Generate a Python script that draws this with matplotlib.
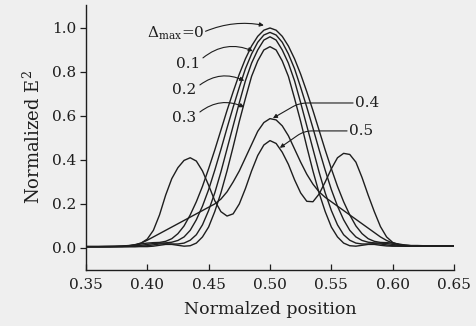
import numpy as np
import matplotlib
matplotlib.use("Agg")
import matplotlib.pyplot as plt

plt.rcParams['font.family'] = ['DejaVu Serif']
plt.rcParams['mathtext.fontset'] = 'dejavuserif'

# Normalized position grid (0.35 .. 0.65, step 0.005)
position = [0.350, 0.355, 0.360, 0.365, 0.370, 0.375, 0.380, 0.385, 0.390, 0.395,
            0.400, 0.405, 0.410, 0.415, 0.420, 0.425, 0.430, 0.435, 0.440, 0.445,
            0.450, 0.455, 0.460, 0.465, 0.470, 0.475, 0.480, 0.485, 0.490, 0.495,
            0.500, 0.505, 0.510, 0.515, 0.520, 0.525, 0.530, 0.535, 0.540, 0.545,
            0.550, 0.555, 0.560, 0.565, 0.570, 0.575, 0.580, 0.585, 0.590, 0.595,
            0.600, 0.605, 0.610, 0.615, 0.620, 0.625, 0.630, 0.635, 0.640, 0.645,
            0.650]

# Normalized E^2 for each Delta_max
e2_d00 = [0.005, 0.005, 0.005, 0.005, 0.005, 0.006, 0.007, 0.009, 0.013, 0.018,
          0.022, 0.024, 0.025, 0.030, 0.042, 0.065, 0.100, 0.150, 0.210, 0.280,
          0.360, 0.445, 0.535, 0.625, 0.710, 0.790, 0.860, 0.918, 0.962, 0.990,
          1.000, 0.990, 0.962, 0.918, 0.860, 0.790, 0.710, 0.625, 0.535, 0.445,
          0.360, 0.280, 0.210, 0.150, 0.100, 0.065, 0.042, 0.030, 0.025, 0.024,
          0.022, 0.018, 0.013, 0.010, 0.009, 0.008, 0.008, 0.008, 0.008, 0.008,
          0.008]
e2_d01 = [0.006, 0.006, 0.006, 0.006, 0.006, 0.006, 0.006, 0.007, 0.009, 0.012,
          0.016, 0.020, 0.022, 0.023, 0.026, 0.034, 0.050, 0.080, 0.128, 0.190,
          0.265, 0.353, 0.447, 0.545, 0.640, 0.730, 0.815, 0.882, 0.935, 0.968,
          0.980, 0.968, 0.935, 0.882, 0.815, 0.730, 0.640, 0.545, 0.447, 0.353,
          0.265, 0.190, 0.128, 0.080, 0.050, 0.034, 0.026, 0.023, 0.022, 0.020,
          0.016, 0.012, 0.010, 0.009, 0.008, 0.008, 0.008, 0.008, 0.008, 0.008,
          0.008]
e2_d02 = [0.006, 0.006, 0.006, 0.006, 0.006, 0.006, 0.006, 0.006, 0.006, 0.008,
          0.010, 0.014, 0.018, 0.019, 0.018, 0.018, 0.022, 0.035, 0.060, 0.105,
          0.170, 0.250, 0.345, 0.450, 0.555, 0.660, 0.760, 0.840, 0.900, 0.945,
          0.960, 0.945, 0.900, 0.840, 0.760, 0.660, 0.555, 0.450, 0.345, 0.250,
          0.170, 0.105, 0.060, 0.035, 0.022, 0.018, 0.018, 0.019, 0.018, 0.014,
          0.010, 0.009, 0.008, 0.008, 0.008, 0.008, 0.008, 0.008, 0.008, 0.008,
          0.008]
e2_d03 = [0.006, 0.006, 0.006, 0.006, 0.006, 0.006, 0.006, 0.006, 0.006, 0.006,
          0.006, 0.008, 0.012, 0.016, 0.016, 0.012, 0.008, 0.010, 0.022, 0.050,
          0.095, 0.165, 0.250, 0.350, 0.460, 0.575, 0.680, 0.780, 0.850, 0.900,
          0.915, 0.900, 0.850, 0.780, 0.680, 0.575, 0.460, 0.350, 0.250, 0.165,
          0.095, 0.050, 0.022, 0.010, 0.008, 0.012, 0.016, 0.016, 0.012, 0.009,
          0.008, 0.008, 0.008, 0.008, 0.008, 0.008, 0.008, 0.008, 0.008, 0.008,
          0.008]
e2_d04 = [0.006, 0.006, 0.006, 0.007, 0.007, 0.008, 0.009, 0.011, 0.015, 0.022,
          0.035, 0.050, 0.065, 0.080, 0.095, 0.110, 0.125, 0.140, 0.155, 0.170,
          0.185, 0.200, 0.222, 0.255, 0.300, 0.350, 0.410, 0.470, 0.530, 0.570,
          0.588, 0.582, 0.555, 0.510, 0.450, 0.390, 0.335, 0.290, 0.255, 0.230,
          0.210, 0.190, 0.170, 0.150, 0.130, 0.110, 0.090, 0.070, 0.050, 0.034,
          0.022, 0.015, 0.012, 0.010, 0.010, 0.009, 0.009, 0.009, 0.009, 0.009,
          0.009]
e2_d05 = [0.006, 0.006, 0.006, 0.006, 0.007, 0.007, 0.008, 0.010, 0.013, 0.022,
          0.040, 0.080, 0.150, 0.240, 0.315, 0.365, 0.398, 0.410, 0.395, 0.350,
          0.285, 0.215, 0.165, 0.145, 0.155, 0.200, 0.270, 0.350, 0.420, 0.468,
          0.488, 0.475, 0.435, 0.380, 0.310, 0.250, 0.212, 0.210, 0.245, 0.300,
          0.360, 0.410, 0.430, 0.425, 0.390, 0.320, 0.240, 0.165, 0.097, 0.050,
          0.025, 0.015, 0.012, 0.011, 0.011, 0.010, 0.010, 0.010, 0.010, 0.010,
          0.010]

x_ticks = [0.35, 0.40, 0.45, 0.50, 0.55, 0.60, 0.65]
x_tick_labels = ["0.35", "0.40", "0.45", "0.50", "0.55", "0.60", "0.65"]
y_ticks = [0.0, 0.2, 0.4, 0.6, 0.8, 1.0]
y_tick_labels = ["0.0", "0.2", "0.4", "0.6", "0.8", "1.0"]

BG = '#efefef'
INK = '#1e1e1e'

fig = plt.figure(figsize=(4.77, 3.26), dpi=100, facecolor=BG)
ax = fig.add_axes([0.180, 0.172, 0.772, 0.813])
ax.set_facecolor(BG)

for series in [e2_d00, e2_d01, e2_d02, e2_d03, e2_d04, e2_d05]:
    ax.plot(position, series, color=INK, lw=1.0, solid_joinstyle='round')

ax.set_xlim(0.35, 0.65)
ax.set_ylim(-0.1, 1.105)
ax.set_xticks(x_ticks)
ax.set_xticklabels(x_tick_labels)
ax.set_yticks(y_ticks)
ax.set_yticklabels(y_tick_labels)
ax.tick_params(axis='x', direction='in', length=4, width=0.9, colors=INK,
               labelsize=11, pad=6)
ax.tick_params(axis='y', direction='out', length=4, width=0.9, colors=INK,
               labelsize=11, pad=3)
for s in ['top', 'right']:
    ax.spines[s].set_visible(False)
for s in ['left', 'bottom']:
    ax.spines[s].set_color(INK)
    ax.spines[s].set_linewidth(1.0)

ax.set_xlabel("Normalzed position", fontsize=12.5, color=INK, labelpad=6)
ax.set_ylabel("Normalized E$^{2}$", fontsize=13, color=INK, labelpad=6)

arrow_kw = dict(arrowstyle='-|>', color=INK, lw=0.8, mutation_scale=6,
                shrinkA=0, shrinkB=0)

# Labels with leaders
ax.text(0.4465, 0.955, r"$\Delta_{\mathrm{max}}$=0", ha='right', va='baseline',
        fontsize=11, color=INK)
ax.annotate('', xy=(0.495, 1.012), xytext=(0.4475, 0.985),
            arrowprops=dict(connectionstyle='arc3,rad=-0.15', **arrow_kw))

ax.text(0.4332, 0.836, "0.1", ha='center', va='center', fontsize=11, color=INK)
ax.annotate('', xy=(0.486, 0.895), xytext=(0.4454, 0.864),
            arrowprops=dict(connectionstyle='arc3,rad=-0.3', **arrow_kw))

ax.text(0.4299, 0.718, "0.2", ha='center', va='center', fontsize=11, color=INK)
ax.annotate('', xy=(0.479, 0.76), xytext=(0.4429, 0.741),
            arrowprops=dict(connectionstyle='arc3,rad=-0.3', **arrow_kw))

ax.text(0.4299, 0.591, "0.3", ha='center', va='center', fontsize=11, color=INK)
ax.annotate('', xy=(0.479, 0.64), xytext=(0.4429, 0.618),
            arrowprops=dict(connectionstyle='arc3,rad=-0.3', **arrow_kw))

ax.text(0.579, 0.659, "0.4", ha='center', va='center', fontsize=11, color=INK)
ax.annotate('', xy=(0.5024, 0.59), xytext=(0.5677, 0.659),
            arrowprops=dict(connectionstyle='angle,angleA=0,angleB=30,rad=8', **arrow_kw))

ax.text(0.5742, 0.532, "0.5", ha='center', va='center', fontsize=11, color=INK)
ax.annotate('', xy=(0.508, 0.455), xytext=(0.5628, 0.532),
            arrowprops=dict(connectionstyle='angle,angleA=0,angleB=35,rad=8', **arrow_kw))

fig.savefig("out.png", dpi=100, facecolor=BG)
